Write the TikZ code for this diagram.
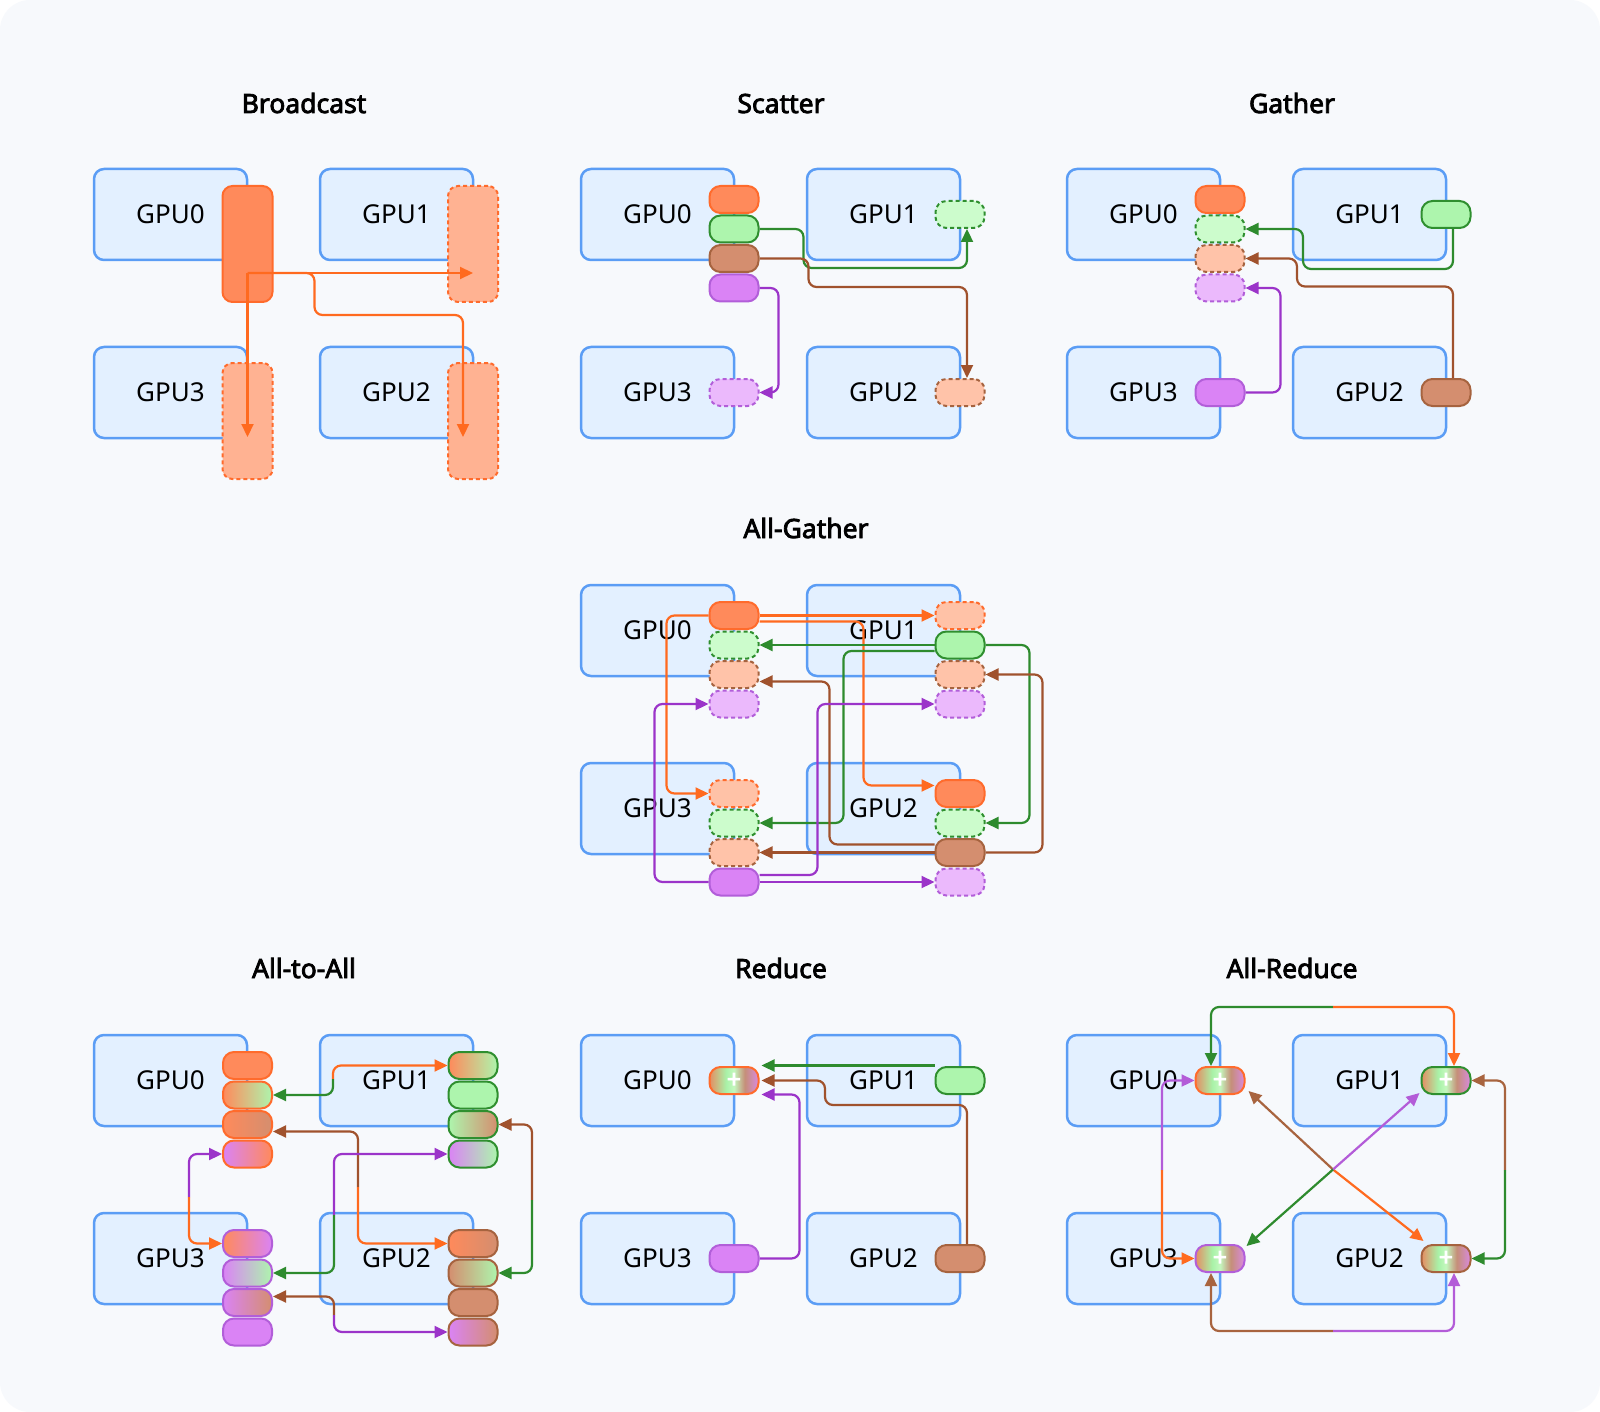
\documentclass[tikz,border=0pt]{standalone}
\usepackage{fontspec}
\setmainfont{Noto Sans}
\newfontfamily\ttlfont{Noto Sans}[FakeBold=3]
\usetikzlibrary{arrows.meta,calc}
\definecolor{bgc}{HTML}{F7F9FC}
\definecolor{gpuF}{HTML}{E3F0FF}
\definecolor{gpuD}{HTML}{5B9DF5}
\definecolor{orF}{HTML}{FF8A5B}
\definecolor{orD}{HTML}{FF6B2C}
\definecolor{orL}{HTML}{FFB292}
\definecolor{orP}{HTML}{FFC2A7}
\definecolor{grF}{HTML}{ADF5AD}
\definecolor{grD}{HTML}{2F8F2F}
\definecolor{grL}{HTML}{CCFCCC}
\definecolor{brF}{HTML}{D48E6F}
\definecolor{brD}{HTML}{A6633F}
\definecolor{brL}{HTML}{FFC3A9}
\definecolor{puF}{HTML}{DA83F5}
\definecolor{puD}{HTML}{B25ED9}
\definecolor{puL}{HTML}{EBB9FC}
\definecolor{orLn}{HTML}{FF6A1F}
\definecolor{grLn}{HTML}{2E8B2E}
\definecolor{brLn}{HTML}{A0522D}
\definecolor{puLn}{HTML}{9B34C9}
\definecolor{brLnB}{HTML}{A8643F}
\definecolor{puLnB}{HTML}{B35CD8}
\definecolor{rA}{HTML}{E58D62}
\definecolor{rB}{HTML}{A8F2A8}
\definecolor{rC}{HTML}{C4F8BE}
\definecolor{rD}{HTML}{C58E78}
\definecolor{rE}{HTML}{D98ADF}
\pgfdeclarehorizontalshading{redsh}{100bp}{color(0bp)=(rA); color(25bp)=(rA); color(42bp)=(rB); color(50bp)=(rC); color(61bp)=(rD); color(75bp)=(rE); color(100bp)=(rE)}
\newcommand\plusfnt{\ttlfont\fontsize{25}{25}\selectfont}
\newcommand\gpuquad[3]{%
  \node[gpu] (#1g0) at ({#2+76.5},{#3+45.5}) {GPU0};
  \node[gpu] (#1g1) at ({#2+302.5},{#3+45.5}) {GPU1};
  \node[gpu] (#1g3) at ({#2+76.5},{#3+223.5}) {GPU3};
  \node[gpu] (#1g2) at ({#2+302.5},{#3+223.5}) {GPU2};
}
\tikzset{
  gpu/.style={draw=gpuD, fill=gpuF, line width=2.5pt, rounded corners=10pt, minimum width=153pt, minimum height=91pt, inner sep=0pt, font=\fontsize{26}{30}\selectfont},
  pill/.style={line width=2pt, rounded corners=11pt, minimum width=49pt, minimum height=27pt, inner sep=0pt},
  dsh/.style={dash pattern=on 4pt off 3pt},
  bar/.style={line width=2pt, rounded corners=10pt, minimum width=50pt, minimum height=116pt, inner sep=0pt},
  ttl/.style={font=\ttlfont\fontsize{26.5}{30}\selectfont, anchor=base},
  con/.style={line width=2.2pt, rounded corners=8pt},
  arr/.style={-{Triangle[length=13pt,width=12pt]}},
  rpill/.style={pill, shade, shading=redsh, text=white, font=\plusfnt},
}
\begin{document}
\begin{tikzpicture}[x=1pt,y=-1pt]
\useasboundingbox (0,0) rectangle (1600,1412);
\fill[white] (0,0) rectangle (1600,1412);
\fill[bgc, rounded corners=30pt] (0,0) rectangle (1600,1412);

% titles
\node[ttl] (tA) at (304,113) {Broadcast};
\node[ttl] (tB) at (781,113) {Scatter};
\node[ttl] (tC) at (1292,113) {Gather};
\node[ttl] (tD) at (806,538) {All-Gather};
\node[ttl] (tE) at (304,978) {All-to-All};
\node[ttl] (tF) at (781,978) {Reduce};
\node[ttl] (tG) at (1292,978) {All-Reduce};

% ---------------- Broadcast
\gpuquad{b}{94}{169}
\node[bar, fill=orF, draw=orD] (b0) at (247.5,244) {};
\node[bar, fill=orL, draw=orD, dsh] (b1) at (473,244) {};
\node[bar, fill=orL, draw=orD, dsh] (b3) at (247.5,421) {};
\node[bar, fill=orL, draw=orD, dsh] (b2) at (473,421) {};
\coordinate (bs) at ($(b0.center)+(0,29)$);
\draw[con, orLn, arr] (bs) -- (bs -| b1.center);
\draw[con, orLn, arr] (bs) -- ($(b3.center)+(0,16)$);
\draw[con, orLn, arr] (bs) -- ++(67,0) -- ++(0,42) -| ($(b2.center)+(-10,16)$);

% ---------------- Scatter
\gpuquad{s}{581}{169}
\node[pill, fill=orF, draw=orD] (so) at (734,199.5) {};
\node[pill, fill=grF, draw=grD] (sg) at (734,229) {};
\node[pill, fill=brF, draw=brD] (sb) at (734,258.5) {};
\node[pill, fill=puF, draw=puD] (sp) at (734,288) {};
\node[pill, fill=grL, draw=grD, dsh] (s1) at (960,214.5) {};
\node[pill, fill=puL, draw=puD, dsh] (s3) at (734,392.5) {};
\node[pill, fill=brL, draw=brD, dsh] (s2) at (960,392.5) {};
\draw[con, grLn, arr] (sg.east) -- ++(44,0) -- ++(0,39) -| ($(s1.south)+(7,0)$);
\draw[con, brLn, arr] (sb.east) -- ++(49,0) -- ++(0,28.5) -| ($(s2.north)+(7,0)$);
\draw[con, puLn, arr] (sp.east) -- ++(19,0) |- (s3.east);

% ---------------- Gather
\gpuquad{c}{1067}{169}
\node[pill, fill=orF, draw=orD] (co) at (1220,199.5) {};
\node[pill, fill=grL, draw=grD, dsh] (cg) at (1220,229) {};
\node[pill, fill=brL, draw=brD, dsh] (cb) at (1220,258.5) {};
\node[pill, fill=puL, draw=puD, dsh] (cp) at (1220,288) {};
\node[pill, fill=grF, draw=grD] (c1) at (1446,214.5) {};
\node[pill, fill=puF, draw=puD] (c3) at (1220,392.5) {};
\node[pill, fill=brF, draw=brD] (c2) at (1446,392.5) {};
\draw[con, grLn, arr] ($(c1.south)+(7,0)$) -- ++(0,40) -- ++(-150,0) |- (cg.east);
\draw[con, brLn, arr] ($(c2.north)+(7,0)$) -- ++(0,-91.5) -- ++(-156,0) |- (cb.east);
\draw[con, puLn, arr] (c3.east) -- ++(35,0) |- (cp.east);

% ---------------- All-Gather
\gpuquad{a}{581}{585}
\node[pill, fill=orF, draw=orD] (a0o) at (734,615.5) {};
\node[pill, fill=grL, draw=grD, dsh] (a0g) at (734,645) {};
\node[pill, fill=brL, draw=brD, dsh] (a0b) at (734,674.5) {};
\node[pill, fill=puL, draw=puD, dsh] (a0p) at (734,704) {};
\node[pill, fill=orP, draw=orD, dsh] (a1o) at (960,615.5) {};
\node[pill, fill=grF, draw=grD] (a1g) at (960,645) {};
\node[pill, fill=brL, draw=brD, dsh] (a1b) at (960,674.5) {};
\node[pill, fill=puL, draw=puD, dsh] (a1p) at (960,704) {};
\node[pill, fill=orP, draw=orD, dsh] (a3o) at (734,793.5) {};
\node[pill, fill=grL, draw=grD, dsh] (a3g) at (734,823) {};
\node[pill, fill=brL, draw=brD, dsh] (a3b) at (734,852.5) {};
\node[pill, fill=puF, draw=puD] (a3p) at (734,882) {};
\node[pill, fill=orF, draw=orD] (a2o) at (960,793.5) {};
\node[pill, fill=grL, draw=grD, dsh] (a2g) at (960,823) {};
\node[pill, fill=brF, draw=brD] (a2b) at (960,852.5) {};
\node[pill, fill=puL, draw=puD, dsh] (a2p) at (960,882) {};
% orange
\draw[con, orLn, arr] (a0o.east) -- (a1o.west);
\draw[con, orLn, arr] ($(a0o.east)+(0,6)$) -- ++(104,0) |- ($(a2o.west)+(0,-8)$);
\draw[con, orLn, arr] (a0o.west) -- ++(-42,0) |- (a3o.west);
% green
\draw[con, grLn, arr] (a1g.west) -- (a0g.east);
\draw[con, grLn, arr] ($(a1g.west)+(0,6)$) -- ++(-91,0) |- (a3g.east);
\draw[con, grLn, arr] (a1g.east) -- ++(44,0) |- (a2g.east);
% brown
\draw[con, brLn, arr] (a2b.west) -- (a3b.east);
\draw[con, brLn, arr] ($(a2b.west)+(0,-8)$) -- ++(-105,0) |- ($(a0b.east)+(0,7)$);
\draw[con, brLn, arr] (a2b.east) -- ++(57,0) |- (a1b.east);
% purple
\draw[con, puLn, arr] (a3p.east) -- (a2p.west);
\draw[con, puLn, arr] ($(a3p.east)+(0,-7)$) -- ++(58,0) |- (a1p.west);
\draw[con, puLn, arr] (a3p.west) -- ++(-54,0) |- (a0p.west);

% ---------------- All-to-All
\gpuquad{t}{94}{1035}
\node[pill, fill=orF, draw=orD] (t0a) at (247.5,1065.5) {};
\node[pill, left color=orF, right color=grF, draw=orD] (t0b) at (247.5,1095) {};
\node[pill, left color=orF, right color=brF, draw=orD] (t0c) at (247.5,1124.5) {};
\node[pill, left color=puF, right color=orF, draw=orD] (t0d) at (247.5,1154) {};
\node[pill, left color=orF, right color=grF, draw=grD] (t1a) at (473,1065.5) {};
\node[pill, fill=grF, draw=grD] (t1b) at (473,1095) {};
\node[pill, left color=grF, right color=brF, draw=grD] (t1c) at (473,1124.5) {};
\node[pill, left color=puF, right color=grF, draw=grD] (t1d) at (473,1154) {};
\node[pill, left color=orF, right color=puF, draw=puD] (t3a) at (247.5,1243.5) {};
\node[pill, left color=puF, right color=grF, draw=puD] (t3b) at (247.5,1273) {};
\node[pill, left color=puF, right color=brF, draw=puD] (t3c) at (247.5,1302.5) {};
\node[pill, fill=puF, draw=puD] (t3d) at (247.5,1332) {};
\node[pill, left color=orF, right color=brF, draw=brD] (t2a) at (473,1243.5) {};
\node[pill, left color=brF, right color=grF, draw=brD] (t2b) at (473,1273) {};
\node[pill, fill=brF, draw=brD] (t2c) at (473,1302.5) {};
\node[pill, left color=puF, right color=brF, draw=brD] (t2d) at (473,1332) {};
\coordinate (m1) at (333,1079);
\draw[con, orLn, arr] (m1) |- (t1a.west);
\draw[con, grLn, arr] (m1) |- (t0b.east);
\coordinate (m2) at (358,1187);
\draw[con, brLn, arr] (m2) |- ($(t0c.east)+(0,7)$);
\draw[con, orLn, arr] (m2) |- (t2a.west);
\coordinate (m3) at (189,1197);
\draw[con, puLn, arr] (m3) |- (t0d.west);
\draw[con, orLn, arr] (m3) |- (t3a.west);
\coordinate (m4) at (532,1200);
\draw[con, brLn, arr] (m4) |- (t1c.east);
\draw[con, grLn, arr] (m4) |- (t2b.east);
\coordinate (m5) at (334,1215);
\draw[con, puLn, arr] (m5) |- (t1d.west);
\draw[con, grLn, arr] (m5) |- (t3b.east);
\coordinate (m6) at (334,1315);
\draw[con, brLn, arr] (m6) |- ($(t3c.east)+(0,-6)$);
\draw[con, puLn, arr] (m6) |- (t2d.west);

% ---------------- Reduce
\gpuquad{r}{581}{1035}
\node[rpill, draw=orD] (r0) at (734,1080.5) {+};
\node[pill, fill=grF, draw=grD] (r1) at (960,1080.5) {};
\node[pill, fill=puF, draw=puD] (r3) at (734,1258.5) {};
\node[pill, fill=brF, draw=brD] (r2) at (960,1258.5) {};
\draw[con, grLn, arr] ($(r1.west)+(0,-15)$) -- ($(r0.east)+(2,-15)$);
\draw[con, brLn, arr] ($(r2.north)+(7,0)$) -- ++(0,-139) -- ++(-142,0) |- ($(r0.east)+(2,0)$);
\draw[con, puLn, arr] (r3.east) -- ++(40,0) |- ($(r0.east)+(2,14)$);

% ---------------- All-Reduce
\gpuquad{u}{1067}{1035}
\node[rpill, draw=orD] (u0) at (1220,1080.5) {+};
\node[rpill, draw=grD] (u1) at (1446,1080.5) {+};
\node[rpill, draw=puD] (u3) at (1220,1258.5) {+};
\node[rpill, draw=brD] (u2) at (1446,1258.5) {+};
\coordinate (n1) at (1333,1007);
\draw[con, grLn, arr] (n1) -| ($(u0.north)+(-9,0)$);
\draw[con, orLn, arr] (n1) -| ($(u1.north)+(8,0)$);
\coordinate (n2) at (1505,1170);
\draw[con, brLnB, arr] (n2) |- (u1.east);
\draw[con, grLn, arr] (n2) |- (u2.east);
\coordinate (n3) at (1333,1331);
\draw[con, brLnB, arr] (n3) -| ($(u3.south)+(-9,0)$);
\draw[con, puLnB, arr] (n3) -| ($(u2.south)+(8,0)$);
\coordinate (n4) at (1162,1170);
\draw[con, puLnB, arr] (n4) |- (u0.west);
\draw[con, orLn, arr] (n4) |- (u3.west);
\coordinate (n5) at ($(u0.south east)!0.5!(u2.north west)$);
\draw[con, brLnB, arr] (n5) -- ($(u0.south east)+(3,-4)$);
\draw[con, orLn, arr] (n5) -- ($(u2.north west)+(3,-3)$);
\coordinate (n6) at ($(u1.south west)!0.5!(u3.north east)$);
\draw[con, puLnB, arr] (n6) -- ($(u1.south west)+(-1,-2)$);
\draw[con, grLn, arr] (n6) -- ($(u3.north east)+(1,2)$);
\end{tikzpicture}
\end{document}
